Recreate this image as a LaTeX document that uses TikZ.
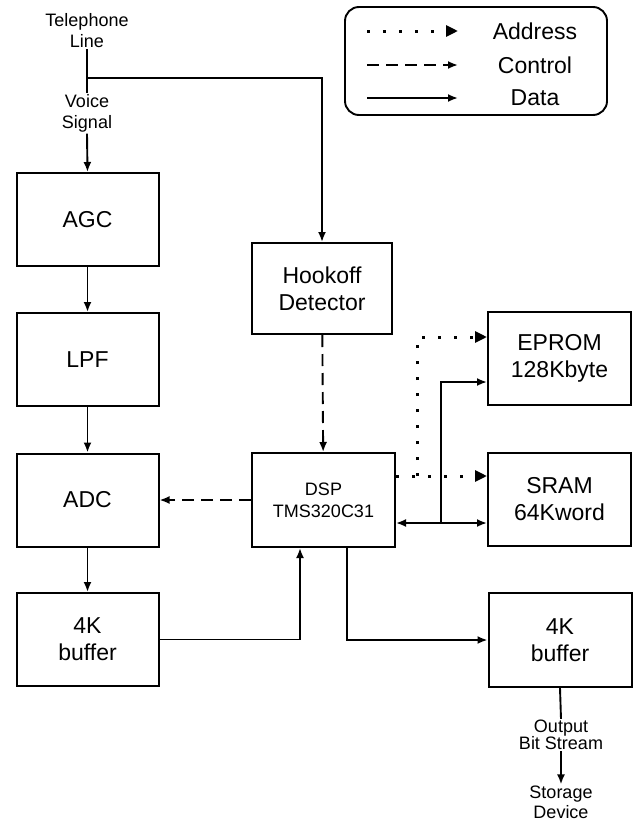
\documentclass[tikz,border=0pt]{standalone}
\usepackage{fontspec}
\setmainfont{Liberation Sans}
\usetikzlibrary{arrows.meta,calc}
\begin{document}
\begin{tikzpicture}[x=1pt,y=-1pt,
 blk/.style={draw, line width=2pt, minimum width=142pt, minimum height=93pt, inner sep=0pt, align=center, font=\fontsize{23}{27}\selectfont},
 lbl/.style={align=center, inner sep=1pt, font=\fontsize{18}{21}\selectfont},
 leglbl/.style={inner sep=0pt, font=\fontsize{23}{26}\selectfont},
 plain/.style={line width=1.9pt},
 data/.style={line width=1.9pt, -{Latex[length=10pt,width=8pt]}},
 ctrl/.style={line width=1.9pt, dash pattern=on 12pt off 7pt, -{Latex[length=10pt,width=8pt]}},
 addr/.style={line width=3pt, dash pattern=on 3pt off 13pt, -{Triangle[length=12pt,width=11pt]}},
]
\useasboundingbox (0,0) rectangle (639,822);

% blocks
\node[blk] (agc)  at (87.5,219.5) {AGC};
\node[blk] (lpf)  at (87.5,359.5) {LPF};
\node[blk] (adc)  at (87.5,500) {ADC};
\node[blk] (bufl) at (87.5,639.5) {4K\\buffer};
\node[blk, minimum width=140pt, minimum height=91pt] (hook) at (322,288.5) {Hookoff\\Detector};
\node[blk, minimum width=143pt, minimum height=94pt, font=\fontsize{18}{22}\selectfont] (dsp) at (323.5,500) {DSP\\TMS320C31};
\node[blk, minimum width=143pt] (eprom) at (559.5,358.5) {EPROM\\128Kbyte};
\node[blk, minimum width=143pt] (sram)  at (559.5,499.5) {SRAM\\64Kword};
\node[blk, minimum width=143pt, minimum height=94pt] (bufr) at (560,640) {4K\\buffer};

% text labels
\node[lbl] (tel) at (87,31) {Telephone\\Line};
\node[lbl] (voice) at (87,113.5) {Voice\\Signal};
\node[lbl, font=\fontsize{18}{17}\selectfont] (out) at (561,735) {Output\\Bit Stream};
\node[lbl, font=\fontsize{18}{20}\selectfont] (stor) at (561,802) {Storage\\Device};

% telephone line
\coordinate (j) at (87,78);
\draw[plain] (tel.south) -- (voice.north);
\draw[data] (j) -| (hook.north);
\draw[data] (voice.south) -- (agc.north);

% left chain
\draw[data] (agc) -- (lpf);
\draw[data] (lpf) -- (adc);
\draw[data] (adc) -- (bufl);
\draw[data] (bufl.east) -| ([xshift=-23.5pt]dsp.south);

% control
\draw[ctrl] (hook) -- (dsp);
\draw[ctrl] (dsp.west) -- (adc.east);

% dsp to output buffer
\draw[data] ([xshift=23.5pt]dsp.south) |- (bufr.west);
\draw[plain] (bufr.south) -- (out.north);
\draw[data] (out.south) -- (stor.north);

% address bus
\coordinate (abr) at (417,476);
\draw[addr] ([yshift=24pt]dsp.east) -- ([yshift=23.5pt]sram.west);
\draw[addr] (abr) |- ([yshift=21.5pt]eprom.west);

% data bus
\coordinate (dbr) at (441,523);
\draw[line width=1.9pt, {Latex[length=10pt,width=8pt]}-{Latex[length=10pt,width=8pt]}] ([yshift=-23pt]dsp.east) -- ([yshift=-23.5pt]sram.west);
\draw[data] (dbr) |- ([yshift=-23.5pt]eprom.west);

% legend
\node[draw, rounded corners=14pt, line width=1.9pt, minimum width=262pt, minimum height=108pt] (leg) at (476,61) {};
\coordinate (la1) at (367,31);  \coordinate (la2) at (458,31);
\coordinate (lc1) at (367,65);  \coordinate (lc2) at (458,65);
\coordinate (ld1) at (367,98);  \coordinate (ld2) at (458,98);
\draw[addr] (la1) -- (la2);
\draw[ctrl] (lc1) -- (lc2);
\draw[data] (ld1) -- (ld2);
\node[leglbl] (tA) at (535,31) {Address};
\node[leglbl] (tC) at (535,65) {Control};
\node[leglbl] (tD) at (535,98) {Data};
\end{tikzpicture}
\end{document}
